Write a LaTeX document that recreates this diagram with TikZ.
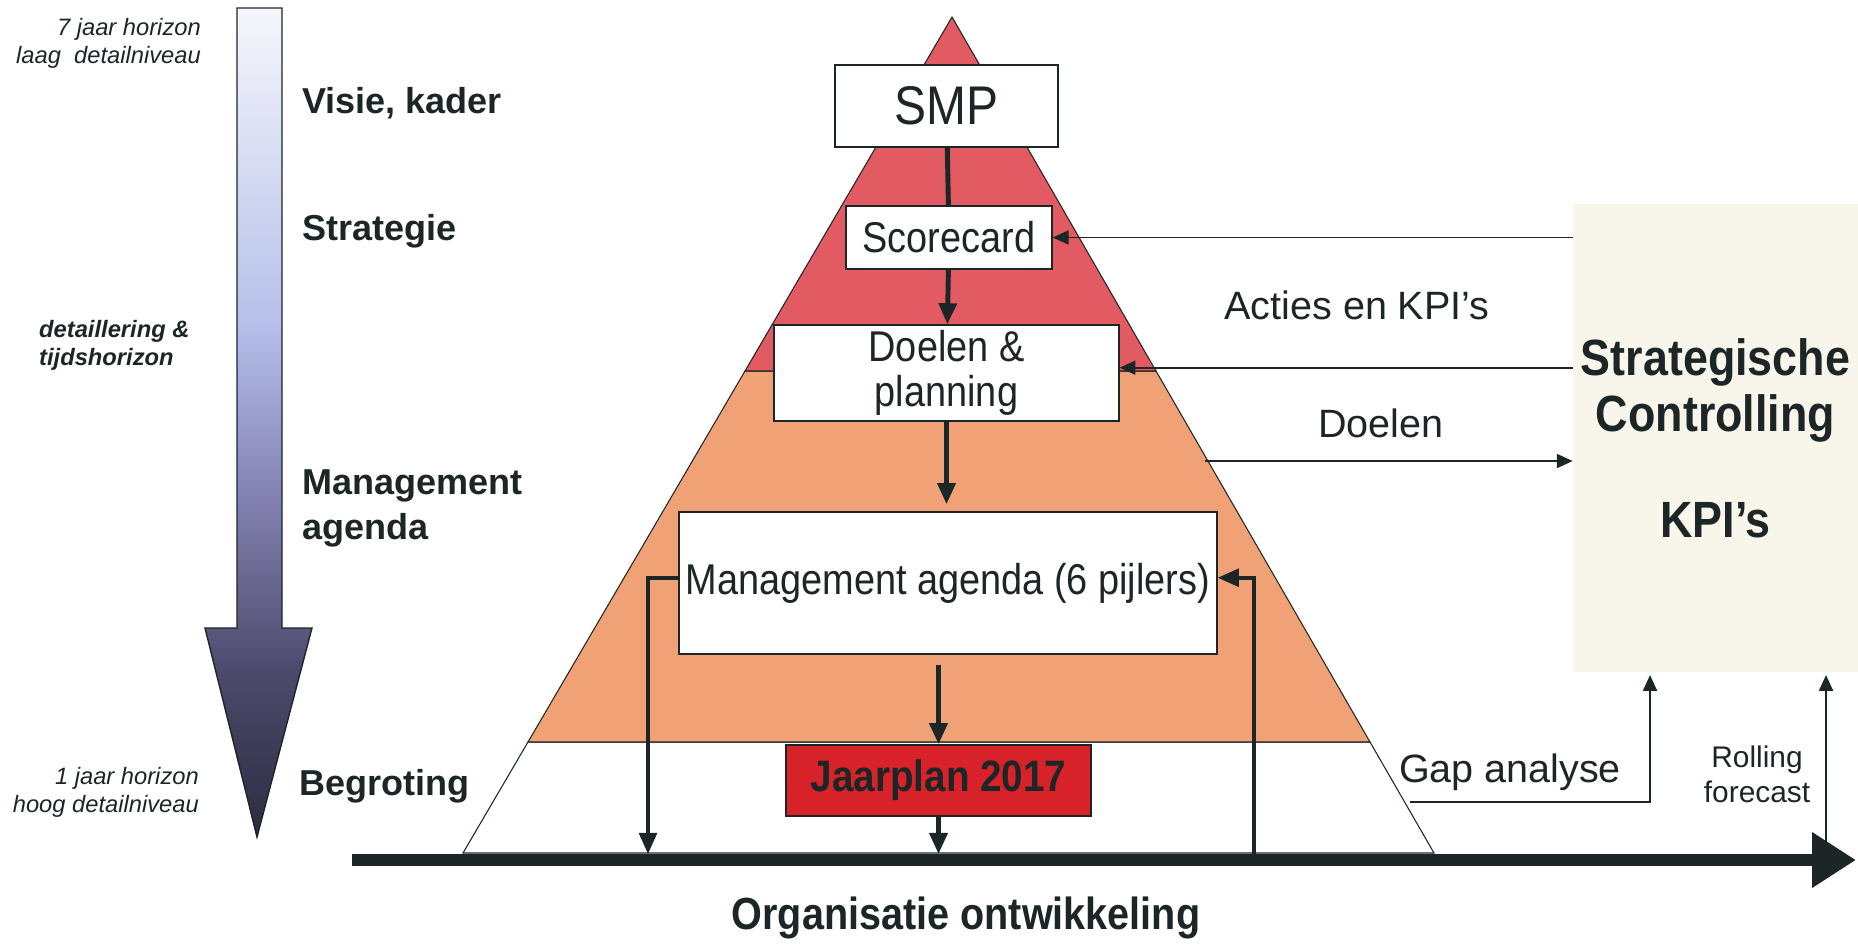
\documentclass[tikz,border=0pt]{standalone}
\usepackage{fontspec}
\setmainfont{Liberation Sans}
\newfontfamily\narrowfont{Liberation Sans}[FakeStretch=0.88]
\usepackage{tikz}
\usetikzlibrary{ arrows.meta, % For sized arrow tips
                 positioning, % For easy node-relative placements
                 calc,
               }
\definecolor{textdark}{RGB}{28,38,38}
\definecolor{redsec}{RGB}{226,90,98}
\definecolor{orangesec}{RGB}{240,162,118}
\definecolor{jaarred}{RGB}{214,34,40}
\definecolor{cream}{RGB}{248,246,234}
\definecolor{fadeA}{RGB}{44,44,64}
\definecolor{fadeB}{RGB}{76,74,108}
\definecolor{fadeC}{RGB}{134,132,180}
\definecolor{fadeD}{RGB}{182,192,234}
\definecolor{fadeE}{RGB}{246,246,251}
\pgfdeclareverticalshading{horizonfade}{100bp}{color(0bp)=(fadeA); color(25bp)=(fadeA);
  color(35bp)=(fadeB); color(46bp)=(fadeC); color(56bp)=(fadeD); color(75bp)=(fadeE); color(100bp)=(fadeE)}
\tikzstyle{planbox} = [rectangle, draw=textdark, fill=white, line width=0.8pt, inner sep=0pt,
                       text=textdark, font=\narrowfont\fontsize{24.5pt}{26pt}\selectfont, align=center]
\tikzstyle{level} = [anchor=west, align=left, text=textdark, font=\bfseries\fontsize{20.5pt}{25.6pt}\selectfont]
\tikzstyle{horizon} = [anchor=east, align=right, text=textdark, font=\itshape\fontsize{13.5pt}{16pt}\selectfont]
\tikzstyle{note} = [text=textdark, font=\fontsize{22.5pt}{26pt}\selectfont]
\tikzstyle{flow} = [draw=textdark, line width=2.8pt, -{Triangle[length=12pt, width=10pt]}]
\tikzstyle{feed} = [draw=textdark, line width=0.9pt, -{Triangle[length=9pt, width=8pt]}]
\tikzstyle{timeline} = [draw=textdark, line width=6.8pt, -{Triangle[length=25pt, width=30pt]}]

\begin{document}
\begin{tikzpicture}[x=0.02cm, y=-0.02cm]
  \useasboundingbox (0,0) rectangle (1858,943);

  % horizon arrow
  \shadedraw[shading=horizonfade, draw=textdark, line width=0.8pt]
    (237,8) -- (282,8) -- (282,628) -- (312,628) -- (257,837) -- (205,628) -- (237,628) -- cycle;
  \node (far) [horizon] at (207,43) {7 jaar horizon\\laag\ \ detailniveau};
  \node (detail) [horizon, anchor=west, align=left, font=\bfseries\itshape\fontsize{13.5pt}{16pt}\selectfont] at (33,345) {detaillering \&\\tijdshorizon};
  \node (near) [horizon] at (205,792) {1 jaar horizon\\hoog detailniveau};

  \node (visie) [level] at (296,103) {Visie, kader};
  \node (strategie) [level] at (296,231) {Strategie};
  \node (agenda) [level] at (296,508) {Management\\agenda};
  \node (begroting) [level] at (293,786) {Begroting};

  % pyramid
  \filldraw[fill=white, draw=textdark, line width=0.6pt] (528,742) -- (463,853) -- (1434,853) -- (1370,742) -- cycle;
  \filldraw[fill=orangesec, draw=textdark, line width=0.6pt] (745,371) -- (528,742) -- (1370,742) -- (1156,371) -- cycle;
  \filldraw[fill=redsec, draw=textdark, line width=0.6pt] (952,17) -- (745,371) -- (1156,371) -- cycle;

  \node (smp) [planbox, minimum width=4.46cm, minimum height=1.64cm, font=\narrowfont\fontsize{31pt}{36pt}\selectfont] at (946.5,106) {SMP};
  \node (scorecard) [planbox, minimum width=4.12cm, minimum height=1.26cm] at (949,237.5) {Scorecard};
  \node (doelen) [planbox, minimum width=6.9cm, minimum height=1.92cm] at (946.5,373) {Doelen \&\\planning};
  \node (mgmt) [planbox, minimum width=10.76cm, minimum height=2.84cm] at (948,583) {Management agenda (6 pijlers)};
  \node (jaarplan) [planbox, fill=jaarred, minimum width=6.1cm, minimum height=1.42cm, font=\narrowfont\bfseries\fontsize{25pt}{26pt}\selectfont] at (938.5,780.5) {Jaarplan 2017};

  % time axis
  \coordinate (axisL) at (352,860);
  \coordinate (axisR) at (1856,860);
  \coordinate (fbL) at (648,860);
  \coordinate (fbR) at (1254,860);
  \draw[timeline] (axisL) -- (axisR);
  \node (org) [text=textdark, font=\narrowfont\bfseries\fontsize{25.6pt}{30pt}\selectfont] at (966,918) {Organisatie ontwikkeling};

  \draw[draw=textdark, line width=2.8pt] (smp) -- (scorecard);
  \draw[flow] (scorecard) -- (doelen);
  \draw[flow, shorten >=4pt] (doelen.south) -- (doelen.south |- mgmt.north);
  \draw[flow] (jaarplan.north |- mgmt.south) ++(0,10) -- (jaarplan.north);
  \draw[flow, shorten >=3.4pt] (jaarplan.south) -- (jaarplan.south |- axisL);
  \draw[flow, line width=2.2pt, shorten >=3.4pt] ([yshift=3pt]mgmt.west) -| (fbL);
  \draw[flow, line width=2.2pt, shorten <=3.4pt] (fbR) |- ([yshift=3pt]mgmt.east);

  % controlling
  \node (ctrl) [fill=cream, minimum width=5.7cm, minimum height=9.36cm, align=center, text=textdark,
                font=\narrowfont\bfseries\fontsize{29pt}{32pt}\selectfont] at (1715.5,438) {Strategische\\Controlling\\[28pt]KPI’s};
  \draw[feed] (ctrl.west |- scorecard.east) -- (scorecard.east);
  \draw[feed] ([yshift=3pt]ctrl.west |- doelen.east) -- ([yshift=3pt]doelen.east);
  \coordinate (edgept) at (1205,461);
  \draw[feed] (edgept) -- (edgept -| ctrl.west);
  \coordinate (gapstart) at (1410,802);
  \coordinate (gapup) at (1650,675);
  \draw[feed] (gapstart) -| (gapup);
  \coordinate (rollfoot) at (1826,852);
  \draw[feed] (rollfoot) -- (rollfoot |- gapup);

  \node (acties) [note] at (1357,305) {Acties en KPI’s};
  \node (doelenlbl) [note] at (1381,423) {Doelen};
  \node (gap) [note] at (1510,772) {Gap analyse};
  \node (rolling) [note, align=center, font=\fontsize{17pt}{20pt}\selectfont] at (1757,774) {Rolling\\forecast};
\end{tikzpicture}
\end{document}
